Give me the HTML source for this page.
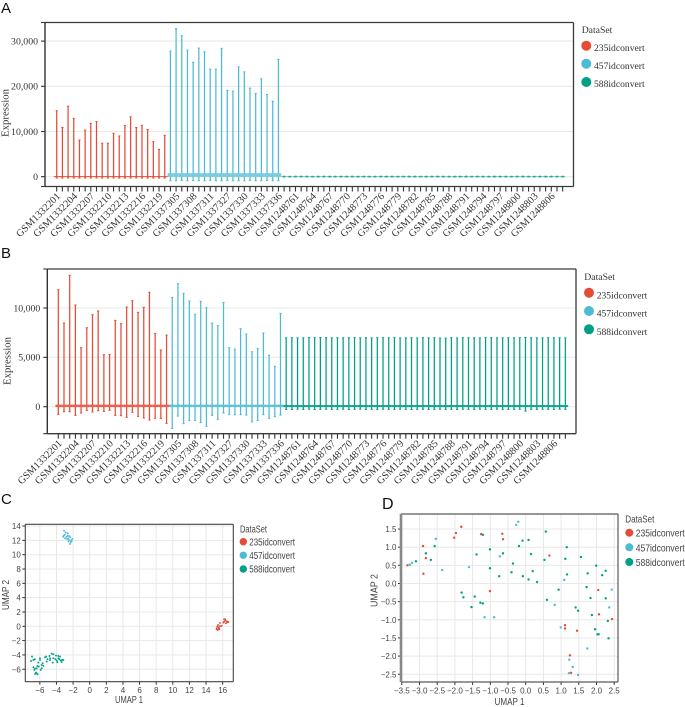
<!DOCTYPE html>
<html lang="en">
<head>
<meta charset="utf-8">
<title>Expression box plots and UMAP panels</title>
<style>
html,body{margin:0;padding:0;background:#fff;width:685px;height:707px;overflow:hidden}
svg{display:block;filter:blur(0.3px)}
.serif{font-family:"Liberation Serif",serif;fill:#333}
.sans{font-family:"Liberation Sans",sans-serif;fill:#444}
.panel{font-family:"Liberation Sans",sans-serif;fill:#111}
</style>
</head>
<body>
<svg id="figure" xmlns="http://www.w3.org/2000/svg" width="685" height="707" viewBox="0 0 685 707">
  <rect width="685" height="707" fill="#fff"/>

  <text class="panel" x="1" y="13" font-size="15">A</text>
  <text class="panel" x="1" y="258" font-size="15">B</text>
  <text class="panel" x="1" y="504" font-size="15">C</text>
  <text class="panel" x="382" y="509" font-size="16">D</text>

  <g id="chartA"></g>
  <g id="chartB"></g>
  <g id="chartC"></g>
  <g id="chartD"></g>

  <text class="serif" font-size="10.8" text-anchor="middle" transform="translate(8.5 113) rotate(-90)">Expression</text>
  <text class="serif" font-size="10.8" text-anchor="middle" transform="translate(10.5 361) rotate(-90)">Expression</text>
  <text class="sans" font-size="10" x="115" y="703" textLength="28" lengthAdjust="spacingAndGlyphs">UMAP 1</text>
  <text class="sans" font-size="10" textLength="30" lengthAdjust="spacingAndGlyphs" transform="translate(9 610) rotate(-90)">UMAP 2</text>
  <text class="sans" font-size="10.5" x="494.5" y="705" textLength="30" lengthAdjust="spacingAndGlyphs">UMAP 1</text>
  <text class="sans" font-size="10.5" textLength="33" lengthAdjust="spacingAndGlyphs" transform="translate(377.5 607) rotate(-90)">UMAP 2</text>

  <g>
    <text class="serif" x="581.7" y="33" font-size="9.7">DataSet</text>
    <circle cx="586.3" cy="45.7" r="5" fill="#e64b35"/>
    <text class="serif" x="594" y="51" font-size="9.6">235idconvert</text>
    <circle cx="586.3" cy="63.7" r="5" fill="#4dbbd5"/>
    <text class="serif" x="594" y="69" font-size="9.6">457idconvert</text>
    <circle cx="586.3" cy="82" r="5" fill="#00a087"/>
    <text class="serif" x="594" y="87" font-size="9.6">588idconvert</text>
  </g>
  <g>
    <text class="serif" x="584.3" y="280" font-size="9.7">DataSet</text>
    <circle cx="589" cy="292.7" r="5" fill="#e64b35"/>
    <text class="serif" x="596.7" y="298.3" font-size="9.6">235idconvert</text>
    <circle cx="589" cy="311" r="5" fill="#4dbbd5"/>
    <text class="serif" x="596.7" y="316.5" font-size="9.6">457idconvert</text>
    <circle cx="589" cy="329.3" r="5" fill="#00a087"/>
    <text class="serif" x="596.7" y="334.8" font-size="9.6">588idconvert</text>
  </g>
  <g>
    <text class="sans" x="240" y="532.7" font-size="9.8" textLength="27" lengthAdjust="spacingAndGlyphs">DataSet</text>
    <circle cx="243.3" cy="541.7" r="3.7" fill="#e64b35"/>
    <text class="sans" x="249.3" y="545.3" font-size="9.8" textLength="45.7" lengthAdjust="spacingAndGlyphs">235idconvert</text>
    <circle cx="243.3" cy="555.3" r="3.7" fill="#4dbbd5"/>
    <text class="sans" x="249.3" y="559" font-size="9.8" textLength="45.7" lengthAdjust="spacingAndGlyphs">457idconvert</text>
    <circle cx="243.3" cy="569" r="3.7" fill="#00a087"/>
    <text class="sans" x="249.3" y="572.5" font-size="9.8" textLength="45.7" lengthAdjust="spacingAndGlyphs">588idconvert</text>
  </g>
  <g>
    <text class="sans" x="625.3" y="522.7" font-size="10.2" textLength="29" lengthAdjust="spacingAndGlyphs">DataSet</text>
    <circle cx="629.3" cy="532.7" r="4" fill="#e64b35"/>
    <text class="sans" x="635.7" y="536.7" font-size="10.2" textLength="49" lengthAdjust="spacingAndGlyphs">235idconvert</text>
    <circle cx="629.3" cy="547.3" r="4" fill="#4dbbd5"/>
    <text class="sans" x="635.7" y="551.5" font-size="10.2" textLength="49" lengthAdjust="spacingAndGlyphs">457idconvert</text>
    <circle cx="629.3" cy="562" r="4" fill="#00a087"/>
    <text class="sans" x="635.7" y="566" font-size="10.2" textLength="49" lengthAdjust="spacingAndGlyphs">588idconvert</text>
  </g>
</svg>

<script>
/* ---------- shared categories ---------- */
const sampleIds = [
"GSM1332201","GSM1332202","GSM1332203","GSM1332204","GSM1332205","GSM1332206","GSM1332207","GSM1332208","GSM1332209","GSM1332210",
"GSM1332211","GSM1332212","GSM1332213","GSM1332214","GSM1332215","GSM1332216","GSM1332217","GSM1332218","GSM1332219","GSM1332220",
"GSM1337304","GSM1337305","GSM1337306","GSM1337307","GSM1337308","GSM1337309","GSM1337310","GSM1337311","GSM1337325","GSM1337326",
"GSM1337327","GSM1337328","GSM1337329","GSM1337330","GSM1337331","GSM1337332","GSM1337333","GSM1337334","GSM1337335","GSM1337336",
"GSM1248759","GSM1248760","GSM1248761","GSM1248762","GSM1248763","GSM1248764","GSM1248765","GSM1248766","GSM1248767","GSM1248768",
"GSM1248769","GSM1248770","GSM1248771","GSM1248772","GSM1248773","GSM1248774","GSM1248775","GSM1248776","GSM1248777","GSM1248778",
"GSM1248779","GSM1248780","GSM1248781","GSM1248782","GSM1248783","GSM1248784","GSM1248785","GSM1248786","GSM1248787","GSM1248788",
"GSM1248789","GSM1248790","GSM1248791","GSM1248792","GSM1248793","GSM1248794","GSM1248795","GSM1248796","GSM1248797","GSM1248798",
"GSM1248799","GSM1248800","GSM1248801","GSM1248802","GSM1248803","GSM1248804","GSM1248805","GSM1248806","GSM1248807","GSM1248808"];

/* ---------- panel A values ---------- */
const aTicks = [0,10000,20000,30000];
const aRedUpper = [14600,10900,15600,12900,8100,10300,11800,12200,7400,7400,9600,9000,11350,13250,10900,11350,10450,7750,6050,9150];
const aRedLower = [-300,-300,-280,-300,-280,-300,-300,-280,-300,-300,-280,-300,-300,-300,-280,-300,-300,-300,-280,-300];
const aBlueUpper = [27800,32800,31200,28000,25300,28450,27650,23800,23800,28400,19100,18950,24300,23200,19600,18400,21650,18200,16700,25950];
const aBlueLower = [-900,-900,-850,-900,-850,-900,-900,-850,-900,-900,-850,-900,-900,-900,-850,-900,-900,-850,-900,-900];
const aGreenUpper = [100,90,110,100,100,90,100,110,100,90,100,100,110,90,100,100,90,110,100,100,90,100,110,100,90,100,100,110,100,90,100,100,110,90,100,100,90,110,100,100,90,100,110,100,90,100,100,110,100,90];
const aGreenLower = [-60,-50,-60,-50,-60,-50,-50,-60,-50,-60,-50,-60,-50,-50,-60,-50,-60,-50,-60,-50,-50,-60,-50,-60,-50,-60,-50,-50,-60,-50,-60,-50,-60,-50,-50,-60,-50,-60,-50,-60,-50,-50,-60,-50,-60,-50,-60,-50,-50,-60];

/* ---------- panel B values ---------- */
const bTicks = [0,5000,10000];
const bRedUpper = [11860,8480,13310,10300,5980,8000,9320,9700,5270,5300,8750,8410,10100,10740,9560,10070,11590,7430,5740,7260];
const bRedLower = [-780,-510,-510,-880,-640,-370,-540,-400,-470,-370,-880,-910,-1080,-570,-980,-1150,-1350,-1180,-1180,-1690];
const bBlueUpper = [11080,12470,11490,10710,9360,10680,10030,8480,8210,10570,5980,5840,7900,7360,5570,5880,7470,5200,4090,9460];
const bBlueLower = [-2200,-950,-1720,-1390,-1390,-1620,-1990,-880,-1280,-640,-810,-810,-810,-850,-1550,-1390,-810,-1180,-1010,-850];
const bGreenUpper = [6980,6990,6970,6980,7000,6990,7010,6990,6980,6990,6980,6990,7000,6980,6990,6970,6990,6990,6980,7000,6960,6980,6990,6970,6990,6980,6990,6960,6950,6990,6970,6990,6980,6990,6970,7000,6990,6980,6970,6990,6980,6990,7020,6990,6980,6970,6990,6980,6980,6970];
const bGreenLower = [-280,-280,-260,-280,-260,-280,-270,-260,-280,-270,-260,-280,-270,-260,-280,-270,-280,-260,-270,-280,-260,-270,-280,-270,-260,-280,-270,-260,-280,-270,-280,-260,-270,-280,-260,-270,-280,-260,-270,-280,-270,-260,-450,-270,-280,-260,-270,-280,-260,-270];

/* ---------- panel C values ---------- */
const cXTicks = [-6,-4,-2,0,2,4,6,8,10,12,14,16];
const cYTicks = [-6,-4,-2,0,2,4,6,8,10,12,14];
const cRedX = [16.17,16.33,16.57,16.09,16.4,15.68,15.88,15.36,15.52,15.28,15.6,15.4,15.68,16.29,16.17,16.49,15.44,15.56,15.28,16.69];
const cRedY = [0.98,0.79,0.56,0.51,0.42,0.47,0.05,-0.05,-0.14,-0.28,-0.42,-0.51,0.05,0.98,0.65,0.7,0.19,-0.28,-0.42,0.6];
const cBlueX = [-3.09,-2.89,-2.65,-3.13,-2.97,-2.65,-2.73,-2.33,-2.17,-2.49,-2.29,-2.37,-2.09,-2.58,-3.0,-2.8,-2.45,-2.25,-3.2,-2.55];
const cBlueY = [13.35,13.1,13.0,12.66,12.28,12.66,12.19,12.43,11.91,12.05,11.73,11.5,12.2,12.28,12.8,12.5,12.6,12.0,12.5,11.85];
const cGreenX = [-6.94,-6.78,-7.06,-6.62,-5.98,-5.38,-4.85,-4.57,-4.37,-4.05,-3.77,-3.57,-3.33,-3.65,-3.89,-3.37,-4.45,-4.77,-5.17,-5.66,-5.78,-6.18,-6.3,-6.78,-6.58,-6.38,-5.9,-5.58,-5.78,-6.58,-6.38,-6.26,-6.46,-5.25,-4.13,-3.97,-3.49,-3.17,-4.77,-5.09,-6.14,-5.98,-6.66,-4.37,-3.77];
const cGreenY = [-4.23,-4.7,-4.84,-4.6,-4.47,-4.33,-4.14,-3.81,-3.91,-4.09,-4.14,-4.23,-4.7,-4.6,-5.02,-4.98,-5.07,-4.7,-4.93,-5.16,-5.4,-5.07,-5.53,-5.72,-5.91,-5.86,-6.09,-5.53,-5.86,-6.65,-6.56,-6.7,-6.47,-4.23,-4.6,-4.79,-4.79,-4.7,-4.47,-4.6,-5.63,-4.7,-6.09,-4.47,-4.47];

/* ---------- panel D values ---------- */
const dXTicks = [-3.5,-3,-2.5,-2,-1.5,-1,-0.5,0,0.5,1,1.5,2,2.5];
const dYTicks = [-2.5,-2,-1.5,-1,-0.5,0,0.5,1,1.5];
const dRedX = [-3.34,-2.9,-2.82,-2.89,-2.02,-1.97,-1.82,-1.26,-0.66,-0.64,0.67,-1.01,2.05,2.07,2.44,1.11,1.11,1.45,1.25,1.28];
const dRedY = [0.5,1.03,0.7,0.27,1.26,1.39,1.56,1.36,1.37,1.22,0.77,-0.21,-0.18,-0.85,-0.98,-1.15,-1.24,-1.3,-1.98,-2.46];
const dBlueX = [-3.27,-3.21,-2.54,-2.36,-1.6,-0.73,-0.27,-0.21,-1.16,-0.89,1.09,2.43,2.36,0.82,0.99,1.74,1.23,1.33,1.22,1.48];
const dBlueY = [0.52,0.57,1.23,0.37,0.45,0.75,1.61,1.7,-0.93,-0.93,0.1,-0.17,-0.66,-0.59,-1.21,-1.79,-2.1,-2.3,-2.47,-2.52];
const dGreenX = [-3.1,-2.82,-2.68,-2.57,-1.81,-1.76,-1.44,-1.53,-1.28,-1.21,-1.39,-1.21,-1.01,-1.01,-0.64,-0.75,-0.36,-0.4,-0.19,-0.09,0.08,0.15,0.53,0.57,-0.08,0.08,0.2,0.32,0.6,0.93,1.12,1.16,1.17,1.56,1.75,1.99,2.16,2.26,1.72,1.83,2.26,1.41,1.48,1.87,2.32,1.96,2.03,2.06,2.34];
const dGreenY = [0.61,0.83,0.65,1.03,-0.25,-0.38,-0.36,-0.65,-0.53,-0.55,0.8,1.34,0.94,0.42,0.83,0.2,0.55,0.31,1.03,1.18,1.2,0.81,0.65,1.43,0.2,0.11,0.34,0.04,-0.45,-0.17,0.68,1,0.25,0.73,0.28,0.49,0.23,0.35,-0.1,-0.4,-0.41,-0.66,-0.75,-0.87,-1.03,-1.26,-1.4,-1.4,-1.51];

/* ---------- drawing helpers ---------- */
const RED = "#e64b35", BLUE = "#4dbbd5", GREEN = "#00a087";
const NS = "http://www.w3.org/2000/svg";

function mk(parent, tag, attrs, name) {
  const el = document.createElementNS(NS, tag);
  for (const k in attrs) el.setAttribute(k, attrs[k]);
  
  
  parent.appendChild(el);
  return el;
}
function line(p, x1, y1, x2, y2, stroke, w, name) {
  return mk(p, "line", {x1:x1, y1:y1, x2:x2, y2:y2, stroke:stroke, "stroke-width":w}, name);
}
function label(p, x, y, str, cls, size, anchor, name, transform) {
  const attrs = {x:x, y:y, class:cls, "font-size":size, "text-anchor":anchor};
  if (transform) attrs.transform = transform;
  const t = mk(p, "text", attrs, name);
  t.textContent = str;
  return t;
}
function frame(p, box, color, w, leftColor, leftWidth) {
  line(p, box.l, box.t, box.r, box.t, color, w, "spine-top");
  line(p, box.r, box.t, box.r, box.b, color, w, "spine-right");
  line(p, box.l, box.b, box.r, box.b, color, w, "spine-bottom");
  line(p, box.l, box.t, box.l, box.b, leftColor, leftWidth, "spine-left");
}

function boxChart(root, box, xFn, yFn, ticks, series) {
  ticks.forEach(v => {
    line(root, box.l, yFn(v), box.r, yFn(v), "#eaeaea", 1.1, "gridline");
    line(root, box.l - 4, yFn(v), box.l, yFn(v), "#333", 1.1, "y-tick");
    label(root, box.l - 7, yFn(v) + 3.3, v.toLocaleString("en-US"), "serif", 9.8, "end", "y-tick-label");
  });
  line(root, box.l - 4, box.t, box.l, box.t, "#333", 1.1, "y-tick-top");
  line(root, box.l - 4, box.b, box.l, box.b, "#333", 1.1, "y-tick-bottom");
  sampleIds.forEach((id, i) => {
    const x = xFn(i);
    line(root, x, box.b, x, box.b + 5, "#333", 1.1, "x-tick");
    if (i % 3 === 0) {
      const ax = x + 4.2, ay = box.b + 10.3;
      label(root, ax, ay, id, "serif", 10.2, "end", "x-tick-label", "rotate(-45 " + ax + " " + ay + ")");
    }
  });
  let index = 0;
  series.forEach(s => {
    const g = mk(root, "g", {}, "series-" + s.name);
    s.upper.forEach((u, k) => {
      const x = xFn(index + k), lo = s.lower[k];
      line(g, x, yFn(u), x, yFn(lo), s.color, 1.25, "whisker");
      line(g, x - 1.1, yFn(u), x + 1.1, yFn(u), s.color, 1, "cap-upper");
      line(g, x - 1.1, yFn(lo), x + 1.1, yFn(lo), s.color, 1, "cap-lower");
      mk(g, "rect", {x:x - s.boxWidth / 2, y:yFn(s.q3), width:s.boxWidth,
        height:Math.max(yFn(s.q1) - yFn(s.q3), 0.1), fill:s.boxFill}, "box");
    });
    index += s.upper.length;
  });
  frame(root, box, "#3a3a3a", 1.3, "#333", 1.4);
}

function scatterChart(root, box, xFn, yFn, xTicks, yTicks, series, r, size) {
  const fmt = v => v.toFixed(box.decimals).replace("-", "\u2212");
  xTicks.forEach(v => {
    line(root, xFn(v), box.t, xFn(v), box.b, "#e8e8e8", 1, "gridline-x");
    line(root, xFn(v), box.b, xFn(v), box.b + 3, "#333", 1, "x-tick");
    label(root, xFn(v), box.b + size + 3.4, fmt(v), "sans", size, "middle", "x-tick-label");
  });
  yTicks.forEach(v => {
    line(root, box.l, yFn(v), box.r, yFn(v), "#e8e8e8", 1, "gridline-y");
    line(root, box.l - 3, yFn(v), box.l, yFn(v), "#333", 1, "y-tick");
    label(root, box.l - 4.5, yFn(v) + 3, fmt(v), "sans", size, "end", "y-tick-label");
  });
  frame(root, box, box.frame, box.frameWidth, box.leftColor, box.leftWidth);
  series.forEach(s => {
    const g = mk(root, "g", {}, "series-" + s.name);
    s.x.forEach((vx, k) => {
      mk(g, "circle", {cx:xFn(vx), cy:yFn(s.y[k]), r:r, fill:s.color}, "point");
    });
  });
}

/* ---------- axis functions and rendering ---------- */
const xA = i => 56.7 + i * 5.685;
const yA = v => 176.7 - v * 0.00452;
const xB = i => 58.3 + i * 5.697;
const yB = v => 406.7 - v * 0.00987;
const xC = v => 89.7 + v * 8.31;
const yC = v => 626.3 - v * 7.16;
const xD = v => 525.7 + v * 35.4;
const yD = v => 583.5 - v * 36.3;

boxChart(document.getElementById("chartA"), {l:45, r:573.5, t:22.5, b:186.5}, xA, yA, aTicks, [
  {name:"235idconvert", color:RED, upper:aRedUpper, lower:aRedLower, q1:-90, q3:130, boxWidth:5.7, boxFill:RED},
  {name:"457idconvert", color:BLUE, upper:aBlueUpper, lower:aBlueLower, q1:-50, q3:780, boxWidth:5.7, boxFill:"#78cbe0"},
  {name:"588idconvert", color:GREEN, upper:aGreenUpper, lower:aGreenLower, q1:-90, q3:110, boxWidth:4.8, boxFill:"#2aae98"}
]);

boxChart(document.getElementById("chartB"), {l:47.3, r:576, t:269, b:433.7}, xB, yB, bTicks, [
  {name:"235idconvert", color:RED, upper:bRedUpper, lower:bRedLower, q1:-40, q3:210, boxWidth:5.7, boxFill:"#e9604c"},
  {name:"457idconvert", color:BLUE, upper:bBlueUpper, lower:bBlueLower, q1:-40, q3:210, boxWidth:5.7, boxFill:"#5fc2da"},
  {name:"588idconvert", color:GREEN, upper:bGreenUpper, lower:bGreenLower, q1:-40, q3:170, boxWidth:5.7, boxFill:"#14a58e"}
]);

scatterChart(document.getElementById("chartC"),
  {l:25.3, r:233.3, t:524.3, b:681.7, decimals:0, frame:"#444", frameWidth:1.1, leftColor:"#444", leftWidth:1.1},
  xC, yC, cXTicks, cYTicks, [
  {name:"235idconvert", color:RED, x:cRedX, y:cRedY},
  {name:"457idconvert", color:BLUE, x:cBlueX, y:cBlueY},
  {name:"588idconvert", color:GREEN, x:cGreenX, y:cGreenY}
], 0.95, 8);

scatterChart(document.getElementById("chartD"),
  {l:401, r:618, t:514, b:682, decimals:1, frame:"#5a5a5a", frameWidth:1.2, leftColor:"#888", leftWidth:2.6},
  xD, yD, dXTicks, dYTicks, [
  {name:"235idconvert", color:RED, x:dRedX, y:dRedY},
  {name:"457idconvert", color:BLUE, x:dBlueX, y:dBlueY},
  {name:"588idconvert", color:GREEN, x:dGreenX, y:dGreenY}
], 1.2, 8);
</script>
</body>
</html>
